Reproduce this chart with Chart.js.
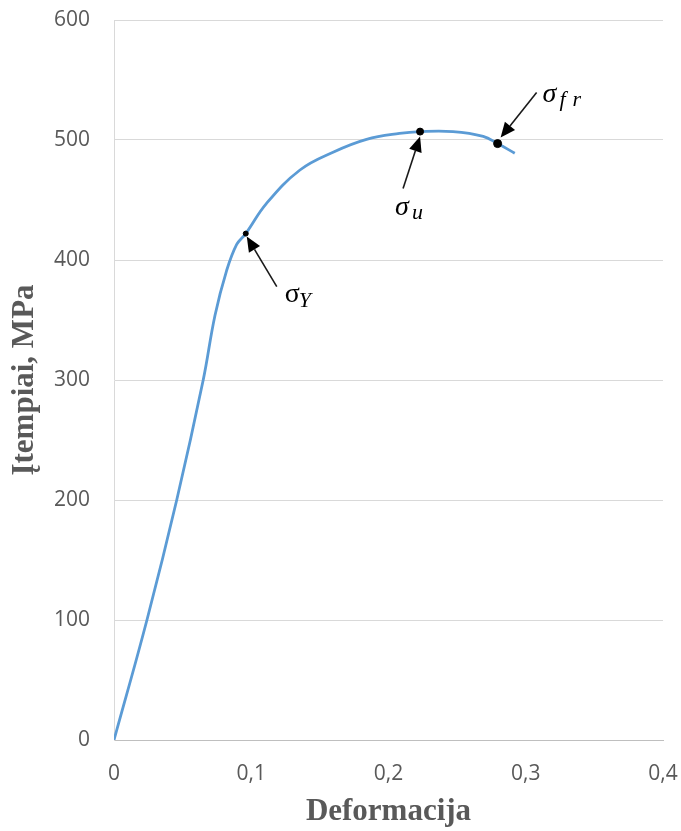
<!DOCTYPE html>
<html><head><meta charset="utf-8">
<script src="https://cdn.jsdelivr.net/npm/chart.js@4"></script>
<style>html,body{margin:0;padding:0;background:#fff}#wrap{width:681px;height:831px;position:relative}</style>
</head><body><div id="wrap"><canvas id="c"></canvas></div>
<script>
// ---- data ----
const strain = [0, 0.024, 0.0457, 0.065, 0.0736, 0.082, 0.0894, 0.096, 0.111, 0.1355, 0.160, 0.184, 0.208, 0.223, 0.247, 0.269, 0.2795, 0.292];
const stress = [0, 100, 200, 300, 354, 391, 413, 422, 447, 475, 490, 500.5, 505.5, 507, 507, 503, 497, 489];
const keyNames = ['Y', 'u', 'fr'];
const keyStrain = [0.096, 0.223, 0.2795];
const keyStress = [422, 507, 497];
const xTicks = [0, 0.1, 0.2, 0.3, 0.4];
const xTickLabels = ['0', '0,1', '0,2', '0,3', '0,4'];
const yTicks = [0, 100, 200, 300, 400, 500, 600];
const xTitle = 'Deformacija';
const yTitle = 'Įtempiai, MPa';

// ---- annotation styling (pixel offsets from each key point) ----
const annSpecs = {
  Y:  {tip: [1, 3],  tail: [31, 53],  text: [39, 68],  sub: [14, 5], italicSigma: false},
  u:  {tip: [0, 5],  tail: [-17, 57], text: [-25, 83], sub: [17, 4], italicSigma: true},
  fr: {tip: [3, -6], tail: [39, -51], text: [45, -42], sub: [17, 4], italicSigma: true}
};

function drawArrow(ctx, x0, y0, x1, y1) {
  const ang = Math.atan2(y1 - y0, x1 - x0);
  const hl = 15, hw = 6.5;
  const bx = x1 - hl * Math.cos(ang), by = y1 - hl * Math.sin(ang);
  ctx.strokeStyle = '#1a1a1a'; ctx.fillStyle = '#000';
  ctx.lineWidth = 1.6;
  ctx.beginPath(); ctx.moveTo(x0, y0); ctx.lineTo(bx, by); ctx.stroke();
  ctx.beginPath();
  ctx.moveTo(x1, y1);
  ctx.lineTo(bx + hw * Math.sin(ang), by - hw * Math.cos(ang));
  ctx.lineTo(bx - hw * Math.sin(ang), by + hw * Math.cos(ang));
  ctx.closePath(); ctx.fill();
}

const annotPlugin = {
  id: 'annot',
  afterDatasetsDraw(chart) {
    const {ctx, scales: {x, y}} = chart;
    ctx.save();
    keyNames.forEach((name, i) => {
      const px = x.getPixelForValue(keyStrain[i]);
      const py = y.getPixelForValue(keyStress[i]);
      const s = annSpecs[name];
      drawArrow(ctx, px + s.tail[0], py + s.tail[1], px + s.tip[0], py + s.tip[1]);
      const tx = px + s.text[0], ty = py + s.text[1];
      ctx.fillStyle = '#000';
      ctx.textBaseline = 'alphabetic'; ctx.textAlign = 'left';
      ctx.font = (s.italicSigma ? 'italic ' : '') + '28px "Liberation Serif", serif';
      ctx.fillText('σ', tx, ty);
      ctx.font = 'italic 22px "Liberation Serif", serif';
      let sx = tx + s.sub[0];
      for (const ch of name) {
        ctx.fillText(ch, sx, ty + s.sub[1]);
        sx += 13;
      }
    });
    ctx.restore();
  }
};

const tickFont = {family: '"Open Sans", sans-serif', size: 21};
const titleFont = {family: '"Liberation Serif", "Times New Roman", serif', size: 31, weight: 'bold'};

new Chart(document.getElementById('c'), {
  data: {
    datasets: [
      {
        type: 'scatter',
        data: keyStrain.map((v, i) => ({x: v, y: keyStress[i]})),
        backgroundColor: '#000', borderColor: '#000',
        pointRadius: [2.5, 3.5, 4], pointHoverRadius: 0, showLine: false, order: 0
      },
      {
        type: 'line',
        data: strain.map((v, i) => ({x: v, y: stress[i]})),
        borderColor: '#5B9BD5', borderWidth: 2.8,
        pointRadius: 0, fill: false,
        tension: 0.4, order: 1
      }
    ]
  },
  options: {
    responsive: true, maintainAspectRatio: false, animation: false, events: [],
    layout: {padding: {top: 20, right: 18, bottom: 0, left: 0}},
    plugins: {legend: {display: false}, tooltip: {enabled: false}},
    scales: {
      x: {
        type: 'linear', min: 0, max: 0.4,
        afterBuildTicks: s => { s.ticks = xTicks.map(v => ({value: v})); },
        afterFit: s => { s.height = 91; s.paddingLeft = 0; s.paddingRight = 0; },
        grid: {display: false, drawTicks: false},
        border: {display: true, color: '#bfbfbf', width: 1},
        ticks: {font: tickFont, color: '#595959', padding: 21, maxRotation: 0,
                callback: (v, i) => xTickLabels[i]},
        title: {display: true, text: xTitle, font: titleFont, color: '#595959', padding: {top: 0, bottom: 0}}
      },
      y: {
        type: 'linear', min: 0, max: 600,
        afterBuildTicks: s => { s.ticks = yTicks.map(v => ({value: v})); },
        afterFit: s => { s.width = 114; s.paddingTop = 0; s.paddingBottom = 0; },
        grid: {color: '#d9d9d9', lineWidth: 1, drawTicks: false},
        border: {display: true, color: '#d9d9d9', width: 1},
        ticks: {font: tickFont, color: '#595959', padding: 24, callback: v => String(v)},
        title: {display: true, text: yTitle, font: titleFont, color: '#595959', padding: {top: 6, bottom: 0}}
      }
    }
  },
  plugins: [annotPlugin]
});
</script>
</body></html>
